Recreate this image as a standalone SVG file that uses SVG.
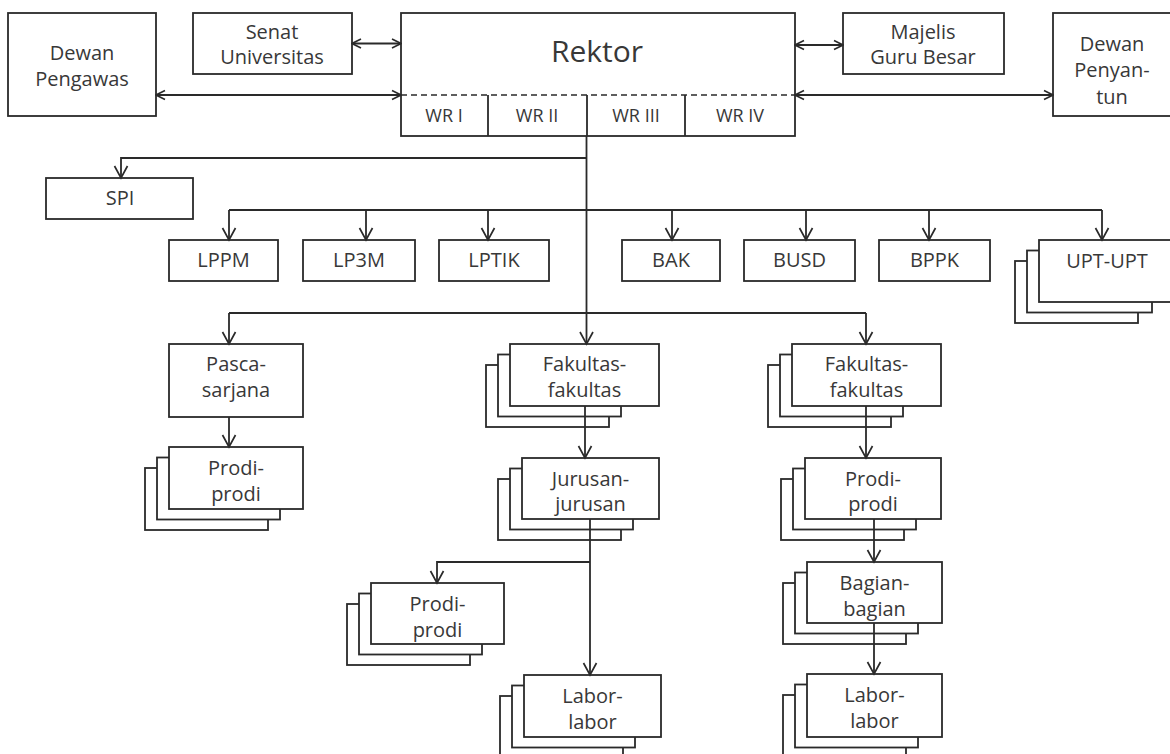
<svg xmlns="http://www.w3.org/2000/svg" width="1170" height="754" viewBox="0 0 1170 754">
<style>
.box{fill:#fff;stroke:#2a2a2a;stroke-width:1.8}
.t{font-family:"Open Sans","Liberation Sans",sans-serif;font-size:20px;fill:#383838;text-anchor:middle}
.wr{font-size:18px}
.big{font-size:30px}
.con{fill:none;stroke:#2a2a2a;stroke-width:1.8}
.arr{marker-end:url(#ah)}
.dbl{marker-start:url(#ahs);marker-end:url(#ahs)}
</style>
<defs>
<marker id="ah" markerUnits="userSpaceOnUse" markerWidth="16" markerHeight="16" viewBox="-14 -8 16 16" refX="0" refY="0" orient="auto-start-reverse">
<path d="M-12,-6.5 L0,0 L-12,6.5" fill="none" stroke="#2a2a2a" stroke-width="1.7"/>
</marker>
<marker id="ahs" markerUnits="userSpaceOnUse" markerWidth="12" markerHeight="12" viewBox="-11 -6 12 12" refX="0" refY="0" orient="auto-start-reverse">
<path d="M-9,-4.5 L0,0 L-9,4.5" fill="none" stroke="#2a2a2a" stroke-width="1.6"/>
</marker>
</defs>
<rect width="1170" height="754" fill="#fff"/>

<g id="dewan-pengawas"><rect class="box" x="8" y="13" width="148" height="103"/><text class="t" x="82" y="60">Dewan</text><text class="t" x="82" y="86">Pengawas</text></g>
<g id="senat"><rect class="box" x="193" y="13" width="159" height="61"/><text class="t" x="272" y="39">Senat</text><text class="t" x="272" y="64">Universitas</text></g>
<g id="rektor"><rect class="box" x="401" y="13" width="394" height="123"/>
<line x1="401" y1="95" x2="795" y2="95" stroke="#2a2a2a" stroke-width="1.5" stroke-dasharray="6 4"/>
<path class="con" d="M488,95V136M587,95V136M685,95V136"/>
<text class="t big" x="597" y="62">Rektor</text>
<text class="t wr" x="444" y="122">WR I</text><text class="t wr" x="537" y="122">WR II</text><text class="t wr" x="636" y="122">WR III</text><text class="t wr" x="740" y="122">WR IV</text></g>
<g id="majelis"><rect class="box" x="843" y="13" width="161" height="61"/><text class="t" x="923" y="39">Majelis</text><text class="t" x="923" y="64">Guru Besar</text></g>
<g id="dewan-penyantun"><rect class="box" x="1053" y="13" width="125" height="103"/><text class="t" x="1112" y="51">Dewan</text><text class="t" x="1112" y="77">Penyan-</text><text class="t" x="1112" y="104">tun</text></g>

<g id="spi"><rect class="box" x="46" y="178" width="147" height="41"/><text class="t" x="120" y="205">SPI</text></g>
<g id="lppm"><rect class="box" x="169" y="240" width="109" height="41"/><text class="t" x="223.5" y="267">LPPM</text></g>
<g id="lp3m"><rect class="box" x="303" y="240" width="112" height="41"/><text class="t" x="359" y="267">LP3M</text></g>
<g id="lptik"><rect class="box" x="439" y="240" width="110" height="41"/><text class="t" x="494" y="267">LPTIK</text></g>
<g id="bak"><rect class="box" x="622" y="240" width="98" height="41"/><text class="t" x="671" y="267">BAK</text></g>
<g id="busd"><rect class="box" x="744" y="240" width="111" height="41"/><text class="t" x="799.5" y="267">BUSD</text></g>
<g id="bppk"><rect class="box" x="879" y="240" width="111" height="41"/><text class="t" x="934.5" y="267">BPPK</text></g>
<g id="upt"><rect class="box" x="1015" y="261" width="123" height="62"/><rect class="box" x="1027" y="250.5" width="125" height="62"/><rect class="box" x="1039" y="240" width="140" height="62"/><text class="t" x="1107" y="268">UPT-UPT</text></g>

<g id="pascasarjana"><rect class="box" x="169" y="344" width="134" height="73"/><text class="t" x="236" y="371">Pasca-</text><text class="t" x="236" y="397">sarjana</text></g>
<g id="prodi-pasca"><rect class="box" x="145" y="468" width="123" height="62"/><rect class="box" x="157" y="457.5" width="123" height="62"/><rect class="box" x="169" y="447" width="134" height="62"/><text class="t" x="236" y="475">Prodi-</text><text class="t" x="236" y="501">prodi</text></g>

<g id="fakultas-1"><rect class="box" x="486" y="365" width="123" height="62"/><rect class="box" x="498" y="354.5" width="123" height="62"/><rect class="box" x="510" y="344" width="149" height="62"/><text class="t" x="584.5" y="371">Fakultas-</text><text class="t" x="584.5" y="397">fakultas</text></g>
<g id="jurusan"><rect class="box" x="498" y="479" width="123" height="61"/><rect class="box" x="510" y="468.5" width="123" height="61"/><rect class="box" x="522" y="458" width="137" height="61"/><text class="t" x="590.5" y="486">Jurusan-</text><text class="t" x="590.5" y="511">jurusan</text></g>
<g id="prodi-jurusan"><rect class="box" x="347" y="604" width="123" height="61"/><rect class="box" x="359" y="593.5" width="123" height="61"/><rect class="box" x="371" y="583" width="133" height="61"/><text class="t" x="437.5" y="611">Prodi-</text><text class="t" x="437.5" y="637">prodi</text></g>
<g id="labor-1"><rect class="box" x="500" y="696" width="123" height="62"/><rect class="box" x="512" y="685.5" width="123" height="62"/><rect class="box" x="524" y="675" width="137" height="62"/><text class="t" x="592.5" y="703">Labor-</text><text class="t" x="592.5" y="729">labor</text></g>

<g id="fakultas-2"><rect class="box" x="768" y="365" width="123" height="62"/><rect class="box" x="780" y="354.5" width="123" height="62"/><rect class="box" x="792" y="344" width="149" height="62"/><text class="t" x="866.5" y="371">Fakultas-</text><text class="t" x="866.5" y="397">fakultas</text></g>
<g id="prodi-2"><rect class="box" x="781" y="479" width="123" height="61"/><rect class="box" x="793" y="468.5" width="123" height="61"/><rect class="box" x="805" y="458" width="136" height="61"/><text class="t" x="873" y="486">Prodi-</text><text class="t" x="873" y="511">prodi</text></g>
<g id="bagian"><rect class="box" x="783" y="583" width="123" height="61"/><rect class="box" x="795" y="572.5" width="123" height="61"/><rect class="box" x="807" y="562" width="135" height="61"/><text class="t" x="874.5" y="590">Bagian-</text><text class="t" x="874.5" y="616">bagian</text></g>
<g id="labor-2"><rect class="box" x="783" y="695" width="123" height="63"/><rect class="box" x="795" y="684.5" width="123" height="63"/><rect class="box" x="807" y="674" width="135" height="63"/><text class="t" x="874.5" y="702">Labor-</text><text class="t" x="874.5" y="728">labor</text></g>

<g id="connectors">
<path class="con dbl" d="M352,43.5H401"/>
<path class="con dbl" d="M156,95H401"/>
<path class="con dbl" d="M795,45H843"/>
<path class="con dbl" d="M795,95H1053"/>
<path class="con arr" d="M586.5,136V344"/>
<path class="con arr" d="M586.5,158H121V178"/>
<path class="con" d="M229,210H1102"/>
<path class="con arr" d="M229,210V240"/>
<path class="con arr" d="M366,210V240"/>
<path class="con arr" d="M488,210V240"/>
<path class="con arr" d="M672,210V240"/>
<path class="con arr" d="M806,210V240"/>
<path class="con arr" d="M929,210V240"/>
<path class="con arr" d="M1102,210V240"/>
<path class="con" d="M229,313H866"/>
<path class="con arr" d="M229,313V344"/>
<path class="con arr" d="M866,313V344"/>
<path class="con arr" d="M229,417V447"/>
<path class="con arr" d="M585,406V458"/>
<path class="con arr" d="M590,519V675"/>
<path class="con arr" d="M590,562H437V583"/>
<path class="con arr" d="M866,406V458"/>
<path class="con arr" d="M874,519V562"/>
<path class="con arr" d="M874,623V674"/>
</g>
</svg>
